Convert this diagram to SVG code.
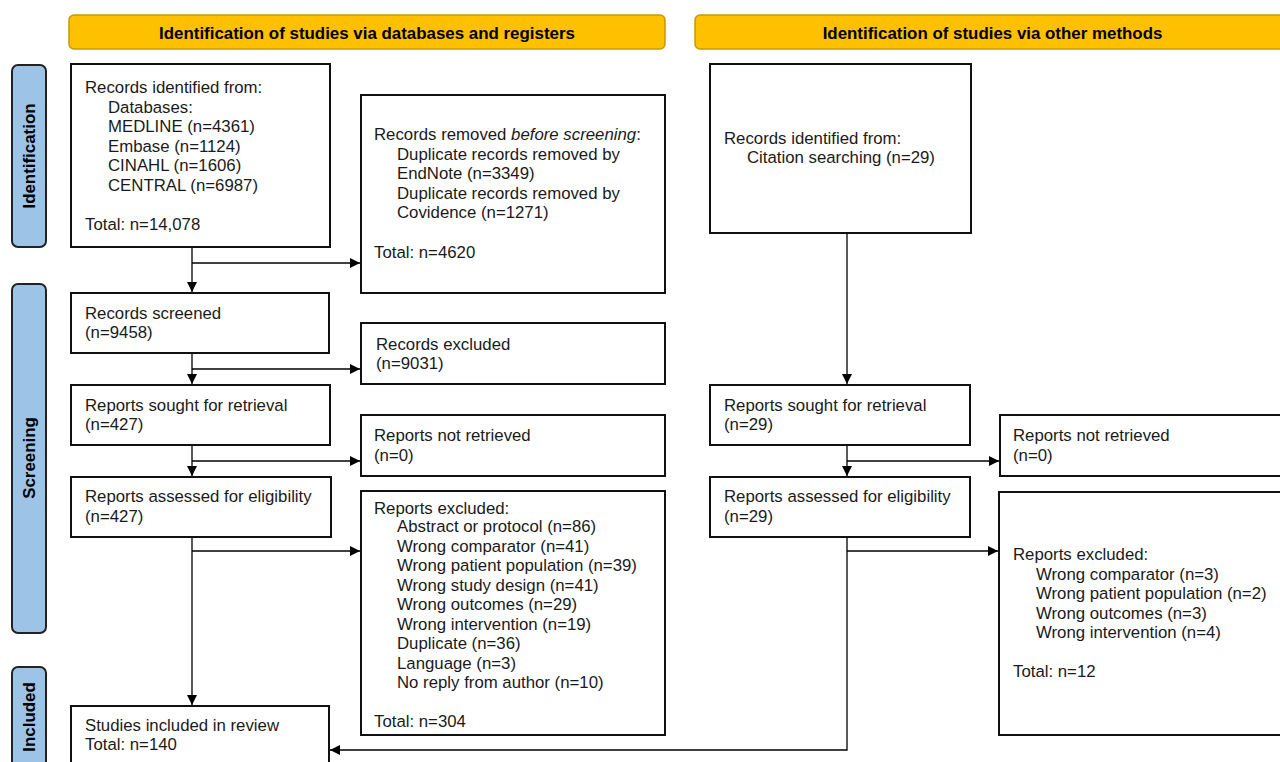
<svg xmlns="http://www.w3.org/2000/svg" width="1280" height="762" viewBox="0 0 1280 762">
<defs>
<marker id="ah" viewBox="0 0 10 10" refX="10" refY="5" markerWidth="10" markerHeight="10" markerUnits="userSpaceOnUse" orient="auto">
<path d="M0,0 L10,5 L0,10 Z" fill="#000"/>
</marker>
<style>
.box{fill:#fff;stroke:#111;stroke-width:2}
.hdr{fill:#FFC000;stroke:#C49A00;stroke-width:1.5}
.side{fill:#9DC3E6;stroke:#222;stroke-width:2}
.t{font-family:"Liberation Sans",Arial,sans-serif;font-size:16.8px;fill:#1a1a1a}
.hb{font-family:"Liberation Sans",Arial,sans-serif;font-size:16.9px;font-weight:bold;fill:#000}
.c{fill:none;stroke:#000;stroke-width:1.3}
</style>
</defs>
<rect width="1280" height="762" fill="#fff"/>

<g id="header-db"><rect class="hdr" x="69" y="15" width="596" height="34" rx="5"/><text class="hb" x="367" y="38.5" text-anchor="middle">Identification of studies via databases and registers</text></g>
<g id="header-other"><rect class="hdr" x="695" y="15" width="600" height="34" rx="5"/><text class="hb" x="992.5" y="38.5" text-anchor="middle">Identification of studies via other methods</text></g>

<g id="side-identification"><rect class="side" x="12" y="65" width="34" height="182" rx="6"/><text class="hb" transform="translate(35,156) rotate(-90)" text-anchor="middle">Identification</text></g>
<g id="side-screening"><rect class="side" x="12" y="284" width="34" height="349" rx="6"/><text class="hb" transform="translate(35,458) rotate(-90)" text-anchor="middle">Screening</text></g>
<g id="side-included"><rect class="side" x="12" y="667" width="34" height="120" rx="6"/><text class="hb" transform="translate(35,717) rotate(-90)" text-anchor="middle">Included</text></g>

<g id="connectors">
<path class="c" d="M192,247 V292" marker-end="url(#ah)"/>
<path class="c" d="M192,263 H360" marker-end="url(#ah)"/>
<path class="c" d="M192,353 V384" marker-end="url(#ah)"/>
<path class="c" d="M192,369 H360" marker-end="url(#ah)"/>
<path class="c" d="M192,445 V476" marker-end="url(#ah)"/>
<path class="c" d="M192,461 H360" marker-end="url(#ah)"/>
<path class="c" d="M192,537 V705" marker-end="url(#ah)"/>
<path class="c" d="M192,551 H360" marker-end="url(#ah)"/>
<path class="c" d="M847,233 V384" marker-end="url(#ah)"/>
<path class="c" d="M847,445 V476" marker-end="url(#ah)"/>
<path class="c" d="M847,461 H999" marker-end="url(#ah)"/>
<path class="c" d="M847,551 H998" marker-end="url(#ah)"/>
<path class="c" d="M847,537 V750 H330" marker-end="url(#ah)"/>
</g>

<g id="records-identified"><rect class="box" x="71" y="64" width="259" height="183"/>
<text class="t" x="85" y="93">Records identified from:</text>
<text class="t" x="108" y="112.5">Databases:</text>
<text class="t" x="108" y="132">MEDLINE (n=4361)</text>
<text class="t" x="108" y="151.5">Embase (n=1124)</text>
<text class="t" x="108" y="171">CINAHL (n=1606)</text>
<text class="t" x="108" y="190.5">CENTRAL (n=6987)</text>
<text class="t" x="85" y="230">Total: n=14,078</text></g>

<g id="records-removed"><rect class="box" x="361" y="95" width="304" height="198"/>
<text class="t" x="374" y="140">Records removed <tspan font-style="italic">before screening</tspan>:</text>
<text class="t" x="397" y="160">Duplicate records removed by</text>
<text class="t" x="397" y="179">EndNote (n=3349)</text>
<text class="t" x="397" y="199">Duplicate records removed by</text>
<text class="t" x="397" y="218">Covidence (n=1271)</text>
<text class="t" x="374" y="258">Total: n=4620</text></g>

<g id="records-screened"><rect class="box" x="71" y="293" width="258" height="60"/>
<text class="t" x="85" y="319">Records screened</text>
<text class="t" x="85" y="338">(n=9458)</text></g>

<g id="records-excluded"><rect class="box" x="361" y="323" width="304" height="61"/>
<text class="t" x="376" y="350">Records excluded</text>
<text class="t" x="376" y="369">(n=9031)</text></g>

<g id="reports-sought"><rect class="box" x="71" y="385" width="259" height="60"/>
<text class="t" x="85" y="411">Reports sought for retrieval</text>
<text class="t" x="85" y="430">(n=427)</text></g>

<g id="reports-not-retrieved"><rect class="box" x="361" y="415" width="304" height="61"/>
<text class="t" x="374" y="441">Reports not retrieved</text>
<text class="t" x="374" y="461">(n=0)</text></g>

<g id="reports-assessed"><rect class="box" x="71" y="477" width="260" height="60"/>
<text class="t" x="85" y="502">Reports assessed for eligibility</text>
<text class="t" x="85" y="522">(n=427)</text></g>

<g id="reports-excluded"><rect class="box" x="361" y="491" width="304" height="244"/>
<text class="t" x="374" y="514">Reports excluded:</text>
<text class="t" x="397" y="532">Abstract or protocol (n=86)</text>
<text class="t" x="397" y="551.5">Wrong comparator (n=41)</text>
<text class="t" x="397" y="571">Wrong patient population (n=39)</text>
<text class="t" x="397" y="590.5">Wrong study design (n=41)</text>
<text class="t" x="397" y="610">Wrong outcomes (n=29)</text>
<text class="t" x="397" y="629.5">Wrong intervention (n=19)</text>
<text class="t" x="397" y="649">Duplicate (n=36)</text>
<text class="t" x="397" y="668.5">Language (n=3)</text>
<text class="t" x="397" y="688">No reply from author (n=10)</text>
<text class="t" x="374" y="727">Total: n=304</text></g>

<g id="studies-included"><rect class="box" x="71" y="706" width="258" height="80"/>
<text class="t" x="85" y="731">Studies included in review</text>
<text class="t" x="85" y="750">Total: n=140</text></g>

<g id="other-records-identified"><rect class="box" x="710" y="64" width="261" height="169"/>
<text class="t" x="724" y="144">Records identified from:</text>
<text class="t" x="747" y="163">Citation searching (n=29)</text></g>

<g id="other-reports-sought"><rect class="box" x="710" y="385" width="260" height="60"/>
<text class="t" x="724" y="411">Reports sought for retrieval</text>
<text class="t" x="724" y="430">(n=29)</text></g>

<g id="other-reports-not-retrieved"><rect class="box" x="1000" y="415" width="290" height="61"/>
<text class="t" x="1013" y="441">Reports not retrieved</text>
<text class="t" x="1013" y="461">(n=0)</text></g>

<g id="other-reports-assessed"><rect class="box" x="710" y="477" width="260" height="60"/>
<text class="t" x="724" y="502">Reports assessed for eligibility</text>
<text class="t" x="724" y="522">(n=29)</text></g>

<g id="other-reports-excluded"><rect class="box" x="999" y="492" width="291" height="243"/>
<text class="t" x="1013" y="560">Reports excluded:</text>
<text class="t" x="1036" y="580">Wrong comparator (n=3)</text>
<text class="t" x="1036" y="599">Wrong patient population (n=2)</text>
<text class="t" x="1036" y="619">Wrong outcomes (n=3)</text>
<text class="t" x="1036" y="638">Wrong intervention (n=4)</text>
<text class="t" x="1013" y="677">Total: n=12</text></g>
</svg>
